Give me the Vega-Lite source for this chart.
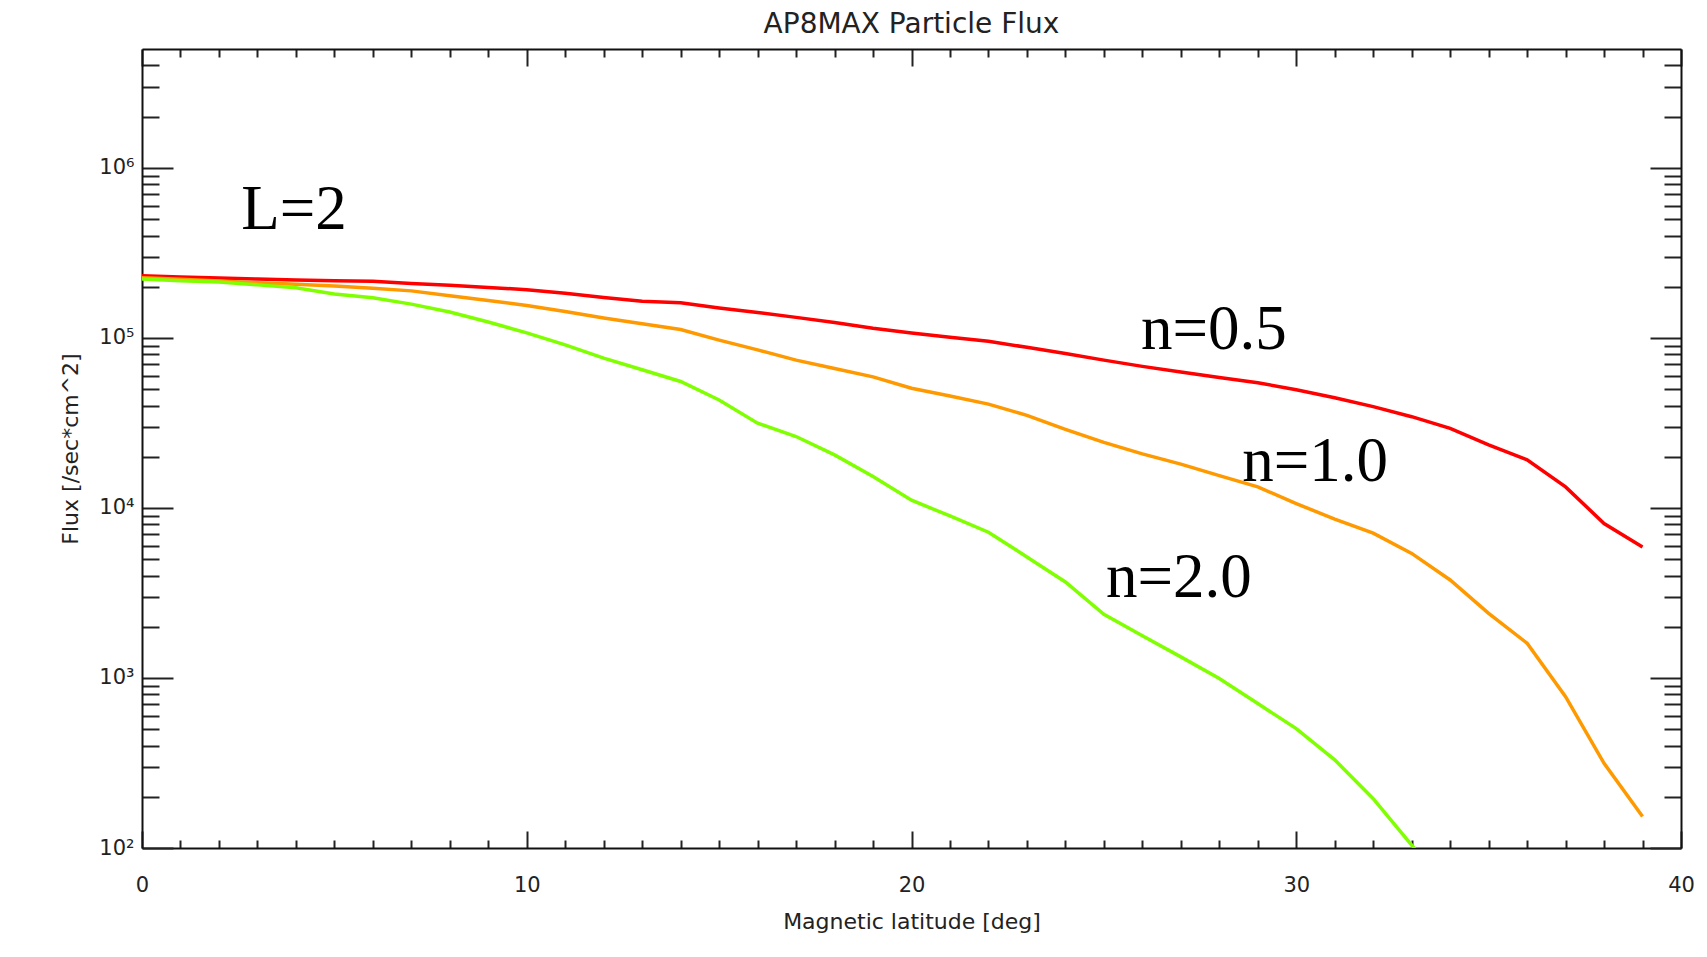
{
  "$schema": "https://vega.github.io/schema/vega-lite/v6.json",
  "width": 1539,
  "height": 799,
  "autosize": {"type": "none"},
  "padding": {"left": 142, "top": 49, "right": 26, "bottom": 109},
  "background": "white",
  "title": {"text": "AP8MAX Particle Flux", "font": "DejaVu Sans", "fontSize": 28, "fontWeight": "normal", "color": "#222222", "offset": 9, "anchor": "middle"},
  "config": {
    "view": {"stroke": null},
    "axis": {"domainColor": "#111111", "domainWidth": 2, "tickColor": "#222222", "tickWidth": 2, "labelFont": "DejaVu Sans", "labelFontSize": 21, "labelColor": "#222222", "titleFont": "DejaVu Sans", "titleFontSize": 22, "titleFontWeight": "normal", "titleColor": "#222222", "grid": false, "labelFlush": false, "labelOverlap": false, "labelBound": false}
  },
  "datasets": {
    "curves": [
      {"lat": 0, "flux": 232000, "n": "n=0.5"}, {"lat": 1, "flux": 228000, "n": "n=0.5"}, {"lat": 2, "flux": 225000, "n": "n=0.5"}, {"lat": 3, "flux": 222000, "n": "n=0.5"}, {"lat": 4, "flux": 219000, "n": "n=0.5"}, {"lat": 5, "flux": 217000, "n": "n=0.5"}, {"lat": 6, "flux": 215000, "n": "n=0.5"}, {"lat": 7, "flux": 209000, "n": "n=0.5"}, {"lat": 8, "flux": 204000, "n": "n=0.5"}, {"lat": 9, "flux": 198000, "n": "n=0.5"},
      {"lat": 10, "flux": 192000, "n": "n=0.5"}, {"lat": 11, "flux": 183000, "n": "n=0.5"}, {"lat": 12, "flux": 173000, "n": "n=0.5"}, {"lat": 13, "flux": 164000, "n": "n=0.5"}, {"lat": 14, "flux": 161000, "n": "n=0.5"}, {"lat": 15, "flux": 150000, "n": "n=0.5"}, {"lat": 16, "flux": 141000, "n": "n=0.5"}, {"lat": 17, "flux": 132000, "n": "n=0.5"}, {"lat": 18, "flux": 123000, "n": "n=0.5"}, {"lat": 19, "flux": 114000, "n": "n=0.5"},
      {"lat": 20, "flux": 107000, "n": "n=0.5"}, {"lat": 21, "flux": 101000, "n": "n=0.5"}, {"lat": 22, "flux": 95500, "n": "n=0.5"}, {"lat": 23, "flux": 88000, "n": "n=0.5"}, {"lat": 24, "flux": 81000, "n": "n=0.5"}, {"lat": 25, "flux": 74000, "n": "n=0.5"}, {"lat": 26, "flux": 68000, "n": "n=0.5"}, {"lat": 27, "flux": 63000, "n": "n=0.5"}, {"lat": 28, "flux": 58500, "n": "n=0.5"}, {"lat": 29, "flux": 54500, "n": "n=0.5"},
      {"lat": 30, "flux": 49500, "n": "n=0.5"}, {"lat": 31, "flux": 44500, "n": "n=0.5"}, {"lat": 32, "flux": 39400, "n": "n=0.5"}, {"lat": 33, "flux": 34400, "n": "n=0.5"}, {"lat": 34, "flux": 29400, "n": "n=0.5"}, {"lat": 35, "flux": 23500, "n": "n=0.5"}, {"lat": 36, "flux": 19200, "n": "n=0.5"}, {"lat": 37, "flux": 13300, "n": "n=0.5"}, {"lat": 38, "flux": 8100, "n": "n=0.5"}, {"lat": 39, "flux": 5900, "n": "n=0.5"},
      {"lat": 0, "flux": 226000, "n": "n=1.0"}, {"lat": 1, "flux": 221000, "n": "n=1.0"}, {"lat": 2, "flux": 216000, "n": "n=1.0"}, {"lat": 3, "flux": 211000, "n": "n=1.0"}, {"lat": 4, "flux": 207000, "n": "n=1.0"}, {"lat": 5, "flux": 202000, "n": "n=1.0"}, {"lat": 6, "flux": 196000, "n": "n=1.0"}, {"lat": 7, "flux": 189000, "n": "n=1.0"}, {"lat": 8, "flux": 177000, "n": "n=1.0"}, {"lat": 9, "flux": 166000, "n": "n=1.0"},
      {"lat": 10, "flux": 155000, "n": "n=1.0"}, {"lat": 11, "flux": 143000, "n": "n=1.0"}, {"lat": 12, "flux": 131000, "n": "n=1.0"}, {"lat": 13, "flux": 121000, "n": "n=1.0"}, {"lat": 14, "flux": 112000, "n": "n=1.0"}, {"lat": 15, "flux": 97000, "n": "n=1.0"}, {"lat": 16, "flux": 85000, "n": "n=1.0"}, {"lat": 17, "flux": 74000, "n": "n=1.0"}, {"lat": 18, "flux": 66000, "n": "n=1.0"}, {"lat": 19, "flux": 59000, "n": "n=1.0"},
      {"lat": 20, "flux": 50600, "n": "n=1.0"}, {"lat": 21, "flux": 45500, "n": "n=1.0"}, {"lat": 22, "flux": 40800, "n": "n=1.0"}, {"lat": 23, "flux": 35000, "n": "n=1.0"}, {"lat": 24, "flux": 29000, "n": "n=1.0"}, {"lat": 25, "flux": 24300, "n": "n=1.0"}, {"lat": 26, "flux": 20800, "n": "n=1.0"}, {"lat": 27, "flux": 18100, "n": "n=1.0"}, {"lat": 28, "flux": 15500, "n": "n=1.0"}, {"lat": 29, "flux": 13300, "n": "n=1.0"},
      {"lat": 30, "flux": 10600, "n": "n=1.0"}, {"lat": 31, "flux": 8600, "n": "n=1.0"}, {"lat": 32, "flux": 7100, "n": "n=1.0"}, {"lat": 33, "flux": 5400, "n": "n=1.0"}, {"lat": 34, "flux": 3770, "n": "n=1.0"}, {"lat": 35, "flux": 2400, "n": "n=1.0"}, {"lat": 36, "flux": 1600, "n": "n=1.0"}, {"lat": 37, "flux": 776, "n": "n=1.0"}, {"lat": 38, "flux": 315, "n": "n=1.0"}, {"lat": 39, "flux": 153, "n": "n=1.0"},
      {"lat": 0, "flux": 222000, "n": "n=2.0"}, {"lat": 1, "flux": 217000, "n": "n=2.0"}, {"lat": 2, "flux": 213000, "n": "n=2.0"}, {"lat": 3, "flux": 205000, "n": "n=2.0"}, {"lat": 4, "flux": 197000, "n": "n=2.0"}, {"lat": 5, "flux": 181000, "n": "n=2.0"}, {"lat": 6, "flux": 172000, "n": "n=2.0"}, {"lat": 7, "flux": 158000, "n": "n=2.0"}, {"lat": 8, "flux": 142000, "n": "n=2.0"}, {"lat": 9, "flux": 124000, "n": "n=2.0"},
      {"lat": 10, "flux": 107000, "n": "n=2.0"}, {"lat": 11, "flux": 91000, "n": "n=2.0"}, {"lat": 12, "flux": 76000, "n": "n=2.0"}, {"lat": 13, "flux": 65000, "n": "n=2.0"}, {"lat": 14, "flux": 55400, "n": "n=2.0"}, {"lat": 15, "flux": 43100, "n": "n=2.0"}, {"lat": 16, "flux": 31500, "n": "n=2.0"}, {"lat": 17, "flux": 26300, "n": "n=2.0"}, {"lat": 18, "flux": 20500, "n": "n=2.0"}, {"lat": 19, "flux": 15300, "n": "n=2.0"},
      {"lat": 20, "flux": 11100, "n": "n=2.0"}, {"lat": 21, "flux": 8970, "n": "n=2.0"}, {"lat": 22, "flux": 7200, "n": "n=2.0"}, {"lat": 23, "flux": 5150, "n": "n=2.0"}, {"lat": 24, "flux": 3670, "n": "n=2.0"}, {"lat": 25, "flux": 2370, "n": "n=2.0"}, {"lat": 26, "flux": 1770, "n": "n=2.0"}, {"lat": 27, "flux": 1330, "n": "n=2.0"}, {"lat": 28, "flux": 993, "n": "n=2.0"}, {"lat": 29, "flux": 707, "n": "n=2.0"},
      {"lat": 30, "flux": 504, "n": "n=2.0"}, {"lat": 31, "flux": 330, "n": "n=2.0"}, {"lat": 32, "flux": 195, "n": "n=2.0"}, {"lat": 33, "flux": 104, "n": "n=2.0"}, {"lat": 34, "flux": 55, "n": "n=2.0"}
    ],
    "notes": [
      {"lat": 3.95, "flux": 438000, "label": "L=2"},
      {"lat": 27.86, "flux": 86100, "label": "n=0.5"},
      {"lat": 30.49, "flux": 14400, "label": "n=1.0"},
      {"lat": 26.95, "flux": 2980, "label": "n=2.0"}
    ]
  },
  "layer": [
    {
      "data": {"name": "curves"},
      "mark": {"type": "line", "strokeWidth": 3.5, "clip": true},
      "encoding": {
        "x": {"field": "lat", "type": "quantitative", "scale": {"domain": [0, 40], "nice": false, "zero": false},
          "axis": {"orient": "bottom", "title": "Magnetic latitude [deg]", "titlePadding": 7,
            "values": [0,1,2,3,4,5,6,7,8,9,10,11,12,13,14,15,16,17,18,19,20,21,22,23,24,25,26,27,28,29,30,31,32,33,34,35,36,37,38,39,40],
            "labelExpr": "datum.value % 10 === 0 ? datum.label : ''",
            "tickSize": {"condition": {"test": "datum.value % 10 === 0", "value": -17}, "value": -8},
            "labelPadding": 43}},
        "y": {"field": "flux", "type": "quantitative", "scale": {"type": "log", "domain": [100, 5000000], "nice": false},
          "axis": {"orient": "left", "title": "Flux [/sec*cm^2]", "titlePadding": 16,
            "values": [100,200,300,400,500,600,700,800,900,1000,2000,3000,4000,5000,6000,7000,8000,9000,10000,20000,30000,40000,50000,60000,70000,80000,90000,100000,200000,300000,400000,500000,600000,700000,800000,900000,1000000,2000000,3000000,4000000],
            "labelExpr": "abs(log(datum.value)/LN10 - round(log(datum.value)/LN10)) < 0.01 ? '10' + ['⁰','¹','²','³','⁴','⁵','⁶','⁷'][round(log(datum.value)/LN10)] : ''",
            "tickSize": {"condition": {"test": "abs(log(datum.value)/LN10 - round(log(datum.value)/LN10)) < 0.01", "value": -31}, "value": -17},
            "labelPadding": 39}},
        "color": {"field": "n", "type": "nominal", "scale": {"domain": ["n=0.5", "n=1.0", "n=2.0"], "range": ["#ff0000", "#ff9900", "#80ff00"]}, "legend": null}
      }
    },
    {
      "data": {"name": "notes"},
      "mark": {"type": "text", "font": "Liberation Serif", "fontSize": 63, "align": "center", "baseline": "alphabetic", "color": "#000000"},
      "encoding": {
        "x": {"field": "lat", "type": "quantitative",
          "axis": {"orient": "top", "title": null, "labels": false,
            "values": [0,1,2,3,4,5,6,7,8,9,10,11,12,13,14,15,16,17,18,19,20,21,22,23,24,25,26,27,28,29,30,31,32,33,34,35,36,37,38,39,40],
            "tickSize": {"condition": {"test": "datum.value % 10 === 0", "value": -17}, "value": -8}}},
        "y": {"field": "flux", "type": "quantitative",
          "axis": {"orient": "right", "title": null, "labels": false,
            "values": [100,200,300,400,500,600,700,800,900,1000,2000,3000,4000,5000,6000,7000,8000,9000,10000,20000,30000,40000,50000,60000,70000,80000,90000,100000,200000,300000,400000,500000,600000,700000,800000,900000,1000000,2000000,3000000,4000000],
            "tickSize": {"condition": {"test": "abs(log(datum.value)/LN10 - round(log(datum.value)/LN10)) < 0.01", "value": -31}, "value": -17}}},
        "text": {"field": "label"}
      }
    }
  ],
  "resolve": {"axis": {"x": "independent", "y": "independent"}}
}
